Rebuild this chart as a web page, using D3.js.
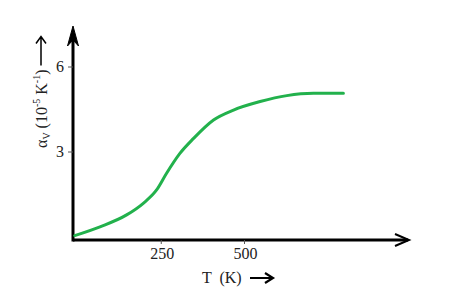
<!DOCTYPE html>
<html>
<head>
<meta charset="utf-8">
<script src="https://cdn.jsdelivr.net/npm/d3@7"></script>
<style>
  body { margin: 0; background: #fff; }
  text { font-family: "Liberation Serif", "Times New Roman", serif; fill: #222; white-space: pre; }
</style>
</head>
<body>
<script>
// values
var temps = [-10, 66, 146, 196, 236, 266, 306, 347, 407, 467, 547, 627, 707, 797];
var alpha = [0.05, 0.36, 0.78, 1.19, 1.66, 2.25, 2.95, 3.48, 4.13, 4.48, 4.78, 4.99, 5.07, 5.07];
var xTicks = [250, 500];
var yTicks = [3, 6];

var width = 453, height = 296;

var svg = d3.select("body").append("svg")
  .attr("width", width)
  .attr("height", height);

var x = d3.scaleLinear().domain([0, 1000]).range([78, 411]);
var y = d3.scaleLinear().domain([0, 6]).range([237, 67]);

var axisX = 73, axisY = 240;

// axes lines
svg.append("line")
  .attr("x1", axisX).attr("y1", axisY)
  .attr("x2", 408).attr("y2", axisY)
  .attr("stroke", "#000").attr("stroke-width", 3);
svg.append("line")
  .attr("x1", axisX).attr("y1", axisY + 1.5)
  .attr("x2", axisX).attr("y2", 36)
  .attr("stroke", "#000").attr("stroke-width", 3);

// arrow heads
svg.append("path")
  .attr("d", "M" + (axisX - 5.5) + ",46 L" + axisX + ",26 L" + (axisX + 5.5) + ",46 L" + axisX + ",40 Z")
  .attr("fill", "#000").attr("stroke", "#000").attr("stroke-width", 1);
svg.append("path")
  .attr("d", "M395,234 L409,240 L395,246")
  .attr("fill", "none").attr("stroke", "#000").attr("stroke-width", 2);

// ticks
svg.selectAll(".xt").data(xTicks).enter().append("line")
  .attr("x1", function(d){ return x(d); }).attr("x2", function(d){ return x(d); })
  .attr("y1", axisY).attr("y2", axisY + 4)
  .attr("stroke", "#555").attr("stroke-width", 1);
svg.selectAll(".xl").data(xTicks).enter().append("text")
  .attr("x", function(d){ return x(d) + 1; }).attr("y", axisY + 19)
  .attr("text-anchor", "middle").attr("font-size", 16)
  .text(function(d){ return d; });

svg.selectAll(".yt").data(yTicks).enter().append("line")
  .attr("x1", axisX - 5).attr("x2", axisX)
  .attr("y1", function(d){ return y(d); }).attr("y2", function(d){ return y(d); })
  .attr("stroke", "#555").attr("stroke-width", 1);
svg.selectAll(".yl").data(yTicks).enter().append("text")
  .attr("x", axisX - 9).attr("y", function(d){ return y(d) + 5; })
  .attr("text-anchor", "end").attr("font-size", 16)
  .text(function(d){ return d; });

// curve
var line = d3.line()
  .x(function(d, i){ return x(temps[i]); })
  .y(function(d){ return y(d); })
  .curve(d3.curveMonotoneX);

svg.append("path")
  .datum(alpha)
  .attr("d", line)
  .attr("fill", "none")
  .attr("stroke", "#22b14c")
  .attr("stroke-width", 3)
  .attr("stroke-linecap", "round");

// x label
svg.append("text")
  .attr("x", 202).attr("y", 283)
  .attr("font-size", 16)
  .text("T  (K)");
svg.append("path")
  .attr("d", "M250,278 L272,278 M265,273 L273,278 L265,283")
  .attr("fill", "none").attr("stroke", "#000").attr("stroke-width", 2.2);

// y label (rotated)
var yl = svg.append("g").attr("transform", "translate(47,148) rotate(-90)");
var t = yl.append("text").attr("x", 0).attr("y", 0).attr("font-size", 16);
t.append("tspan").text("\u03b1");
t.append("tspan").attr("font-size", 10).attr("dy", 3).text("V");
t.append("tspan").attr("dy", -3).text(" (10");
t.append("tspan").attr("font-size", 10).attr("dy", -7).text("-5");
t.append("tspan").attr("dy", 7).text(" K");
t.append("tspan").attr("font-size", 10).attr("dy", -7).text("-1");
t.append("tspan").attr("dy", 7).text(")");
var len = t.node().getComputedTextLength();
yl.append("path")
  .attr("d", "M" + (len + 4) + ",-6 L" + (len + 33) + ",-6 M" + (len + 26) + ",-11 L" + (len + 33) + ",-6 L" + (len + 26) + ",-1")
  .attr("fill", "none").attr("stroke", "#000").attr("stroke-width", 1.5);
</script>
</body>
</html>
